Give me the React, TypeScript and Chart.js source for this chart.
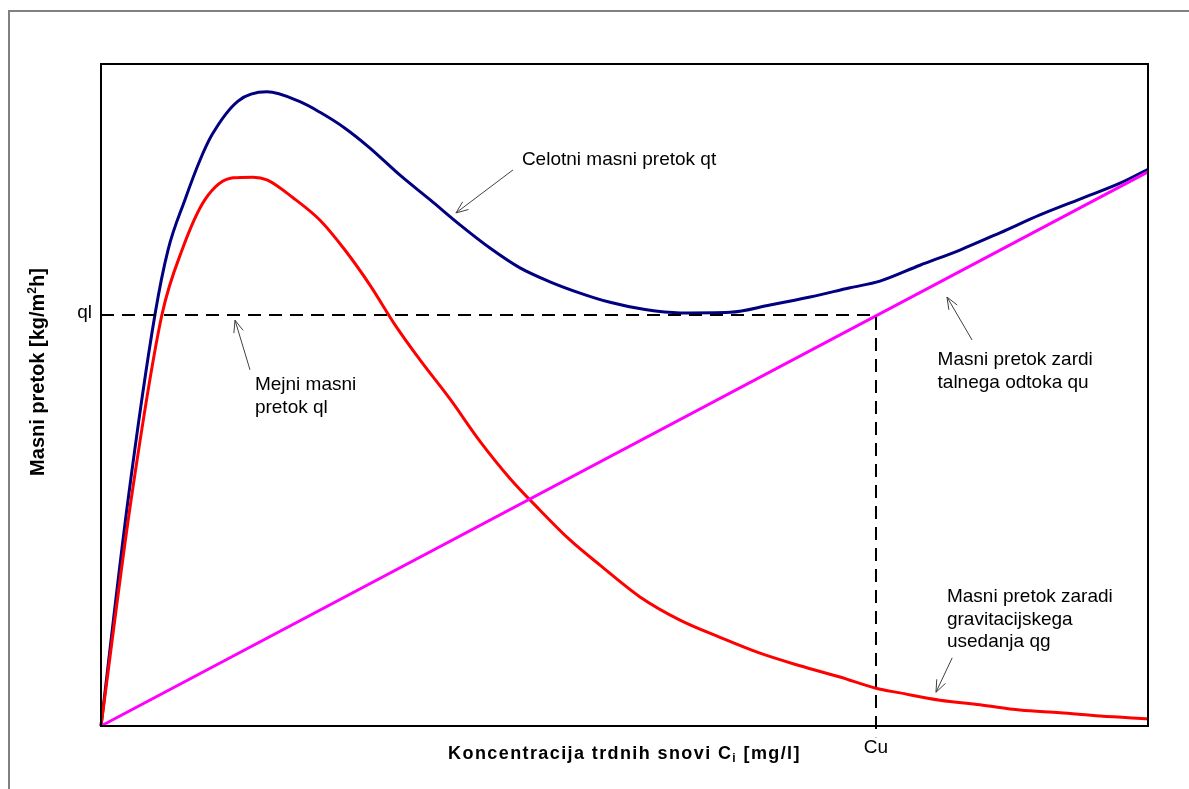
import React, { useEffect, useRef } from "react";
import { Chart, registerables } from "chart.js";
Chart.register(...registerables);

// Celotni masni pretok qt
const qtX = [0, 2.58, 5.16, 6.4, 8.02, 9.46, 10.6, 13.09, 15.85, 19.0, 20.92, 23.3, 25.69, 28.56, 31.42, 34.29, 37.15, 40.02, 42.88, 45.75, 48.62, 51.96, 55.3, 60.08, 63.9, 67.72, 71.54, 74.4, 78.22, 82.04, 85.86, 89.68, 93.5, 97.33, 100];
const qtY = [0, 34.1, 62.2, 71.9, 79.5, 85.5, 89.3, 94.4, 95.8, 94.3, 92.7, 90.3, 87.3, 83.2, 79.5, 75.7, 72.2, 69.2, 67.1, 65.4, 64.0, 62.9, 62.4, 62.5, 63.6, 64.8, 66.2, 67.2, 69.6, 71.9, 74.5, 77.2, 79.6, 82.0, 84.1];
// Masni pretok zaradi gravitacijskega usedanja qg
const qgX = [0, 2.87, 5.83, 7.74, 9.93, 12.61, 14.52, 15.85, 18.34, 20.92, 23.3, 25.69, 28.08, 30.47, 33.33, 36.2, 39.06, 41.93, 44.79, 47.66, 51.48, 55.3, 59.12, 62.94, 66.76, 70.58, 74.02, 76.31, 80.13, 83.95, 87.77, 91.6, 95.42, 100];
const qgY = [0, 34.1, 62.2, 71.9, 79.5, 82.8, 82.9, 82.5, 79.8, 76.4, 71.9, 66.6, 60.6, 55.3, 49.4, 43.0, 37.4, 32.6, 28.1, 24.3, 19.5, 16.0, 13.4, 11.0, 9.1, 7.4, 5.7, 5.0, 3.9, 3.2, 2.4, 2.0, 1.5, 1.1];
// Masni pretok zaradi talnega odtoka qu
const quX = [0, 100];
const quY = [0, 83.7];
// Mejni masni pretok ql and concentration Cu
const qlValue = 62.1;
const cuValue = 74.02;
const axisLabels = { ql: "ql", cu: "Cu" };

const annotations = [
  { lines: ["Celotni masni pretok qt"], tx: 40.2, ty: 85.5, ax0: 39.35, ay0: 84.0, ax1: 33.9, ay1: 77.5 },
  { lines: ["Mejni masni", "pretok ql"], tx: 14.7, ty: 51.5, ax0: 14.23, ay0: 53.8, ax1: 12.8, ay1: 61.3 },
  { lines: ["Masni pretok zardi", "talnega odtoka qu"], tx: 79.9, ty: 55.3, ax0: 83.2, ay0: 58.3, ax1: 80.8, ay1: 64.8 },
  { lines: ["Masni pretok zaradi", "gravitacijskega", "usedanja qg"], tx: 80.8, ty: 19.5, ax0: 81.3, ay0: 10.3, ax1: 79.75, ay1: 5.1 },
];

const zip = (xs: number[], ys: number[]) => xs.map((x, i) => ({ x, y: ys[i] }));

const FONT = "'Liberation Sans', Arial, sans-serif";

const overlayPlugin = {
  id: "overlay",
  afterDraw(chart: any) {
    const { ctx, chartArea: a, scales } = chart;
    const sx = scales.x, sy = scales.y;
    ctx.save();
    // plot frame
    ctx.strokeStyle = "#000";
    ctx.lineWidth = 2;
    ctx.strokeRect(a.left, a.top, a.right - a.left, a.bottom - a.top);

    // ql / Cu labels
    ctx.fillStyle = "#000";
    ctx.font = `19px ${FONT}`;
    ctx.textAlign = "right";
    ctx.textBaseline = "middle";
    ctx.fillText(axisLabels.ql, a.left - 9, sy.getPixelForValue(qlValue) - 2);
    ctx.textAlign = "center";
    ctx.textBaseline = "top";
    ctx.fillText(axisLabels.cu, sx.getPixelForValue(cuValue), a.bottom + 12);

    // x title with subscript
    ctx.textBaseline = "alphabetic";
    ctx.textAlign = "left";
    const p1 = "Koncentracija trdnih snovi C";
    const p2 = "i";
    const p3 = " [mg/l]";
    ctx.letterSpacing = "1.4px";
    ctx.font = `bold 18px ${FONT}`;
    const w1 = ctx.measureText(p1).width;
    ctx.font = `bold 12px ${FONT}`;
    const w2 = ctx.measureText(p2).width;
    ctx.font = `bold 18px ${FONT}`;
    const w3 = ctx.measureText(p3).width;
    const cx = (a.left + a.right) / 2;
    const x0 = cx - (w1 + w2 + w3) / 2;
    const by = a.bottom + 33;
    ctx.fillText(p1, x0, by);
    ctx.font = `bold 12px ${FONT}`;
    ctx.fillText(p2, x0 + w1, by + 3);
    ctx.font = `bold 18px ${FONT}`;
    ctx.fillText(p3, x0 + w1 + w2, by);
    ctx.letterSpacing = "0px";

    // y title with superscript
    ctx.save();
    ctx.translate(44, 372);
    ctx.rotate(-Math.PI / 2);
    ctx.font = `bold 20px ${FONT}`;
    const q1 = "Masni pretok [kg/m";
    const q2 = "2";
    const q3 = "h]";
    const v1 = ctx.measureText(q1).width;
    ctx.font = `bold 12px ${FONT}`;
    const v2 = ctx.measureText(q2).width;
    ctx.font = `bold 20px ${FONT}`;
    const v3 = ctx.measureText(q3).width;
    const y0 = -(v1 + v2 + v3) / 2;
    ctx.fillText(q1, y0, 0);
    ctx.font = `bold 12px ${FONT}`;
    ctx.fillText(q2, y0 + v1, -8);
    ctx.font = `bold 20px ${FONT}`;
    ctx.fillText(q3, y0 + v1 + v2, 0);
    ctx.restore();

    // annotations
    ctx.font = `19px ${FONT}`;
    ctx.textAlign = "left";
    ctx.textBaseline = "middle";
    ctx.fillStyle = "#000";
    for (const an of annotations) {
      const tx = sx.getPixelForValue(an.tx);
      const ty = sy.getPixelForValue(an.ty);
      an.lines.forEach((l, i) => ctx.fillText(l, tx, ty + i * 22.5));
      const x0a = sx.getPixelForValue(an.ax0), y0a = sy.getPixelForValue(an.ay0);
      const x1a = sx.getPixelForValue(an.ax1), y1a = sy.getPixelForValue(an.ay1);
      ctx.strokeStyle = "#404040";
      ctx.lineWidth = 1;
      ctx.beginPath();
      ctx.moveTo(x0a, y0a);
      ctx.lineTo(x1a, y1a);
      const ang = Math.atan2(y1a - y0a, x1a - x0a);
      const L = 13, s = 0.38;
      ctx.moveTo(x1a - L * Math.cos(ang - s), y1a - L * Math.sin(ang - s));
      ctx.lineTo(x1a, y1a);
      ctx.lineTo(x1a - L * Math.cos(ang + s), y1a - L * Math.sin(ang + s));
      ctx.stroke();
    }
    ctx.restore();
  },
};

export default function App() {
  const ref = useRef<HTMLCanvasElement>(null);
  useEffect(() => {
    if (!ref.current) return;
    const chart = new Chart(ref.current, {
      type: "line",
      data: {
        datasets: [
          {
            label: "ql",
            data: [{ x: 0, y: qlValue }, { x: cuValue, y: qlValue }, { x: cuValue, y: -1.7 }],
            borderColor: "#000",
            borderWidth: 2,
            borderDash: [13, 8],
            pointRadius: 0,
            tension: 0,
            clip: false as any,
          },
          {
            label: "qu",
            data: zip(quX, quY),
            borderColor: "#ff00ff",
            borderWidth: 3,
            pointRadius: 0,
            tension: 0,
            clip: 3 as any,
          },
          {
            label: "qg",
            data: zip(qgX, qgY),
            borderColor: "#ff0000",
            borderWidth: 3,
            pointRadius: 0,
            cubicInterpolationMode: "monotone",
            clip: 3 as any,
          },
          {
            label: "qt",
            data: zip(qtX, qtY),
            borderColor: "#000080",
            borderWidth: 3,
            pointRadius: 0,
            cubicInterpolationMode: "monotone",
            clip: 3 as any,
          },
        ],
      },
      options: {
        animation: false,
        responsive: false,
        events: [],
        layout: { padding: { left: 101, top: 64, right: 41, bottom: 63 } },
        plugins: { legend: { display: false }, tooltip: { enabled: false } },
        scales: {
          x: { type: "linear", min: 0, max: 100, display: false },
          y: { type: "linear", min: 0, max: 100, display: false },
        },
      },
      plugins: [overlayPlugin],
    });
    return () => chart.destroy();
  }, []);
  return (
    <div style={{ position: "fixed", left: 0, top: 0, width: 1189, height: 789, overflow: "hidden", background: "#fff" }}>
      <div style={{ position: "absolute", left: 8, top: 10, width: 1400, height: 1000, borderLeft: "2px solid #808080", borderTop: "2px solid #808080" }} />
      <canvas ref={ref} width={1189} height={789} style={{ position: "absolute", left: 0, top: 0 }} />
    </div>
  );
}
